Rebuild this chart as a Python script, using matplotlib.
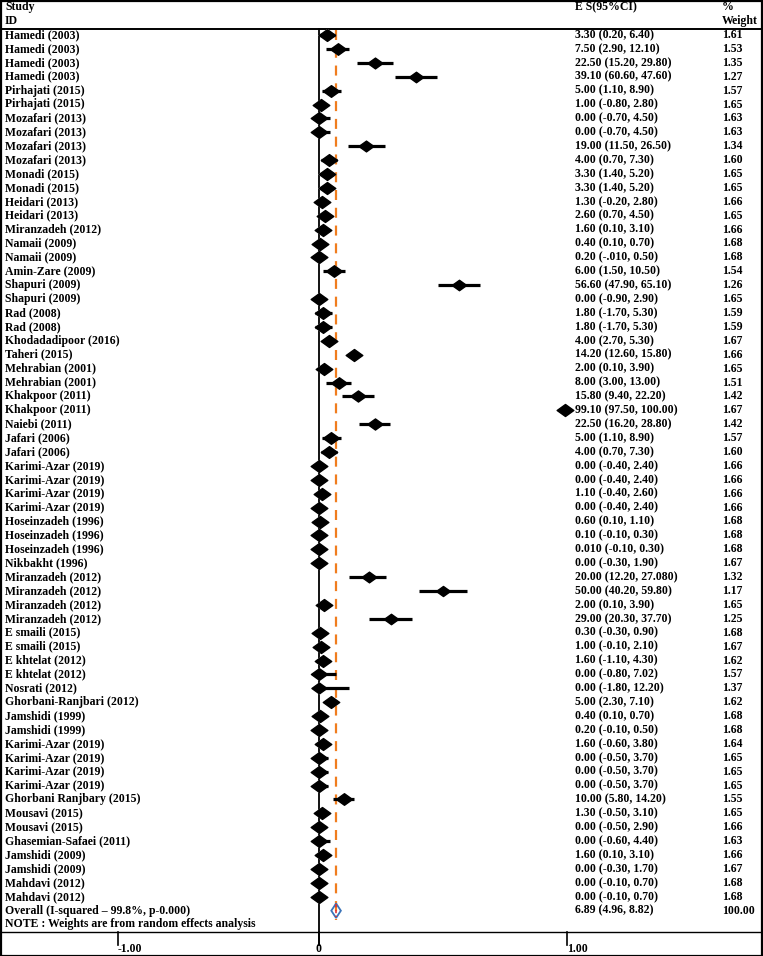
import matplotlib
matplotlib.use("Agg")
import matplotlib.pyplot as plt
from matplotlib.path import Path
from matplotlib.patches import Rectangle, Polygon
import numpy as np

studies = [
    "Hamedi (2003)", "Hamedi (2003)", "Hamedi (2003)", "Hamedi (2003)",
    "Pirhajati (2015)", "Pirhajati (2015)",
    "Mozafari (2013)", "Mozafari (2013)", "Mozafari (2013)", "Mozafari (2013)",
    "Monadi (2015)", "Monadi (2015)", "Heidari (2013)", "Heidari (2013)",
    "Miranzadeh (2012)", "Namaii (2009)", "Namaii (2009)", "Amin-Zare (2009)",
    "Shapuri (2009)", "Shapuri (2009)", "Rad (2008)", "Rad (2008)",
    "Khodadadipoor (2016)", "Taheri (2015)", "Mehrabian (2001)", "Mehrabian (2001)",
    "Khakpoor (2011)", "Khakpoor (2011)", "Naiebi (2011)", "Jafari (2006)", "Jafari (2006)",
    "Karimi-Azar (2019)", "Karimi-Azar (2019)", "Karimi-Azar (2019)", "Karimi-Azar (2019)",
    "Hoseinzadeh (1996)", "Hoseinzadeh (1996)", "Hoseinzadeh (1996)", "Nikbakht (1996)",
    "Miranzadeh (2012)", "Miranzadeh (2012)", "Miranzadeh (2012)", "Miranzadeh (2012)",
    "E smaili (2015)", "E smaili (2015)", "E khtelat (2012)", "E khtelat (2012)",
    "Nosrati (2012)", "Ghorbani-Ranjbari (2012)", "Jamshidi (1999)", "Jamshidi (1999)",
    "Karimi-Azar (2019)", "Karimi-Azar (2019)", "Karimi-Azar (2019)", "Karimi-Azar (2019)",
    "Ghorbani Ranjbary (2015)", "Mousavi (2015)", "Mousavi (2015)",
    "Ghasemian-Safaei (2011)", "Jamshidi (2009)", "Jamshidi (2009)",
    "Mahdavi (2012)", "Mahdavi (2012)",
]

es = [3.30, 7.50, 22.50, 39.10, 5.00, 1.00, 0.00, 0.00, 19.00, 4.00,
      3.30, 3.30, 1.30, 2.60, 1.60, 0.40, 0.20, 6.00, 56.60, 0.00,
      1.80, 1.80, 4.00, 14.20, 2.00, 8.00, 15.80, 99.10, 22.50, 5.00, 4.00,
      0.00, 0.00, 1.10, 0.00, 0.60, 0.10, 0.01, 0.00,
      20.00, 50.00, 2.00, 29.00, 0.30, 1.00, 1.60, 0.00,
      0.00, 5.00, 0.40, 0.20, 1.60, 0.00, 0.00, 0.00,
      10.00, 1.30, 0.00, 0.00, 1.60, 0.00, 0.00, 0.00]

lo = [0.20, 2.90, 15.20, 30.60, 1.10, -0.80, -0.70, -0.70, 11.50, 0.70,
      1.40, 1.40, -0.20, 0.70, 0.10, 0.10, -0.10, 1.50, 47.90, -0.90,
      -1.70, -1.70, 2.70, 12.60, 0.10, 3.00, 9.40, 97.50, 16.20, 1.10, 0.70,
      -0.40, -0.40, -0.40, -0.40, 0.10, -0.10, -0.10, -0.30,
      12.20, 40.20, 0.10, 20.30, -0.30, -0.10, -1.10, -0.80,
      -1.80, 2.30, 0.10, -0.10, -0.60, -0.50, -0.50, -0.50,
      5.80, -0.50, -0.50, -0.60, 0.10, -0.30, -0.10, -0.10]

hi = [6.40, 12.10, 29.80, 47.60, 8.90, 2.80, 4.50, 4.50, 26.50, 7.30,
      5.20, 5.20, 2.80, 4.50, 3.10, 0.70, 0.50, 10.50, 65.10, 2.90,
      5.30, 5.30, 5.30, 15.80, 3.90, 13.00, 22.20, 100.00, 28.80, 8.90, 7.30,
      2.40, 2.40, 2.60, 2.40, 1.10, 0.30, 0.30, 1.90,
      27.08, 59.80, 3.90, 37.70, 0.90, 2.10, 4.30, 7.02,
      12.20, 7.10, 0.70, 0.50, 3.80, 3.70, 3.70, 3.70,
      14.20, 3.10, 2.90, 4.40, 3.10, 1.70, 0.70, 0.70]

ci_text = [
    "3.30 (0.20, 6.40)", "7.50 (2.90, 12.10)", "22.50 (15.20, 29.80)", "39.10 (60.60, 47.60)",
    "5.00 (1.10, 8.90)", "1.00 (-0.80, 2.80)", "0.00 (-0.70, 4.50)", "0.00 (-0.70, 4.50)",
    "19.00 (11.50, 26.50)", "4.00 (0.70, 7.30)", "3.30 (1.40, 5.20)", "3.30 (1.40, 5.20)",
    "1.30 (-0.20, 2.80)", "2.60 (0.70, 4.50)", "1.60 (0.10, 3.10)", "0.40 (0.10, 0.70)",
    "0.20 (-.010, 0.50)", "6.00 (1.50, 10.50)", "56.60 (47.90, 65.10)", "0.00 (-0.90, 2.90)",
    "1.80 (-1.70, 5.30)", "1.80 (-1.70, 5.30)", "4.00 (2.70, 5.30)", "14.20 (12.60, 15.80)",
    "2.00 (0.10, 3.90)", "8.00 (3.00, 13.00)", "15.80 (9.40, 22.20)", "99.10 (97.50, 100.00)",
    "22.50 (16.20, 28.80)", "5.00 (1.10, 8.90)", "4.00 (0.70, 7.30)",
    "0.00 (-0.40, 2.40)", "0.00 (-0.40, 2.40)", "1.10 (-0.40, 2.60)", "0.00 (-0.40, 2.40)",
    "0.60 (0.10, 1.10)", "0.10 (-0.10, 0.30)", "0.010 (-0.10, 0.30)", "0.00 (-0.30, 1.90)",
    "20.00 (12.20, 27.080)", "50.00 (40.20, 59.80)", "2.00 (0.10, 3.90)", "29.00 (20.30, 37.70)",
    "0.30 (-0.30, 0.90)", "1.00 (-0.10, 2.10)", "1.60 (-1.10, 4.30)", "0.00 (-0.80, 7.02)",
    "0.00 (-1.80, 12.20)", "5.00 (2.30, 7.10)", "0.40 (0.10, 0.70)", "0.20 (-0.10, 0.50)",
    "1.60 (-0.60, 3.80)", "0.00 (-0.50, 3.70)", "0.00 (-0.50, 3.70)", "0.00 (-0.50, 3.70)",
    "10.00 (5.80, 14.20)", "1.30 (-0.50, 3.10)", "0.00 (-0.50, 2.90)", "0.00 (-0.60, 4.40)",
    "1.60 (0.10, 3.10)", "0.00 (-0.30, 1.70)", "0.00 (-0.10, 0.70)", "0.00 (-0.10, 0.70)",
]

weights = [1.61, 1.53, 1.35, 1.27, 1.57, 1.65, 1.63, 1.63, 1.34, 1.60,
           1.65, 1.65, 1.66, 1.65, 1.66, 1.68, 1.68, 1.54, 1.26, 1.65,
           1.59, 1.59, 1.67, 1.66, 1.65, 1.51, 1.42, 1.67, 1.42, 1.57, 1.60,
           1.66, 1.66, 1.66, 1.66, 1.68, 1.68, 1.68, 1.67,
           1.32, 1.17, 1.65, 1.25, 1.68, 1.67, 1.62, 1.57,
           1.37, 1.62, 1.68, 1.68, 1.64, 1.65, 1.65, 1.65,
           1.55, 1.65, 1.66, 1.63, 1.66, 1.67, 1.68, 1.68]

overall_label = "Overall (I-squared \u2013 99.8%, p-0.000)"
overall_es, overall_lo, overall_hi = 6.89, 4.96, 8.82
overall_text = "6.89 (4.96, 8.82)"
overall_weight = "100.00"
note_text = "NOTE : Weights are from random effects analysis"
axis_tick_labels = ["-1.00", "0", "1.00"]

# ---------------- layout ----------------
W, H = 763, 956
fig = plt.figure(figsize=(W / 100, H / 100), dpi=100)
ax = fig.add_axes([0, 0, 1, 1])
X0, XS = 319.0, 248.0          # pixel of 0 and pixels per unit
Y0, YS = 35.0, 13.9            # pixel of row 1 and row spacing
ax.set_xlim(-X0 / XS, (W - X0) / XS)
ax.set_ylim(1 + (H - Y0) / YS, 1 - Y0 / YS)
ax.axis("off")

def px2x(p):
    return (p - X0) / XS

def py2y(p):
    return 1 + (p - Y0) / YS

FONT = dict(family="Liberation Serif", fontweight="bold", fontsize=8.5, color="black")
XS_TXT, XES_TXT, XW_TXT = 5, 575, 722

n = len(studies)
rows = np.arange(1, n + 1)
esf = np.array(es) / 100
lof = np.array(lo) / 100
hif = np.array(hi) / 100

# vertical reference lines
ax.plot([0, 0], [py2y(29), py2y(945)], color="black", lw=1.3, zorder=1)
ax.plot([overall_es / 100] * 2, [py2y(30), py2y(920)], color="#f07d1e", lw=1.6,
        dashes=(4.5, 3.5), zorder=1)

# CIs and diamonds
for r, l, h in zip(rows, lof, hif):
    ax.plot([l, h], [r, r], color="black", lw=2.3, solid_capstyle="butt", zorder=3)
diamond = Path([(-1, 0), (0, 0.72), (1, 0), (0, -0.72), (-1, 0)],
               [Path.MOVETO, Path.LINETO, Path.LINETO, Path.LINETO, Path.CLOSEPOLY])
sizes = 12.0 * np.sqrt(np.array(weights) / 1.68)
for r, e, s in zip(rows, esf, sizes):
    ax.plot([e], [r], marker=diamond, markersize=s + 1.5, color="#cfcfcf", mec="none", zorder=2)
    ax.plot([e], [r], marker=diamond, markersize=s, color="black", mec="black", zorder=4)

# overall diamond
ro = n + 1
poly = Polygon([(overall_lo / 100, ro), (overall_es / 100, ro - 0.52),
                (overall_hi / 100, ro), (overall_es / 100, ro + 0.52)],
               closed=True, fill=False, edgecolor="#3b74b8", lw=1.3, zorder=5)
ax.add_patch(poly)
ax.plot([overall_es / 100] * 2, [ro - 0.45, ro + 0.45], color="#e03030", lw=1.2,
        dashes=(2, 1.5), zorder=6)

# text columns
for r, s, c, w in zip(rows, studies, ci_text, weights):
    ax.text(px2x(XS_TXT), r, s, ha="left", va="center", **FONT)
    ax.text(px2x(XES_TXT), r, c, ha="left", va="center", **FONT)
    ax.text(px2x(XW_TXT), r, f"{w:.2f}", ha="left", va="center", **FONT)
ax.text(px2x(XS_TXT), ro, overall_label, ha="left", va="center", **FONT)
ax.text(px2x(XES_TXT), ro, overall_text, ha="left", va="center", **FONT)
ax.text(px2x(XW_TXT), ro, overall_weight, ha="left", va="center", **FONT)
ax.text(px2x(XS_TXT), ro + 0.95, note_text, ha="left", va="center", **FONT)

# header
ax.text(px2x(XS_TXT), py2y(7), "Study", ha="left", va="center", **FONT)
ax.text(px2x(XS_TXT), py2y(21), "ID", ha="left", va="center", **FONT)
ax.text(px2x(XES_TXT), py2y(7), "E S(95%CI)", ha="left", va="center", **FONT)
ax.text(px2x(XW_TXT), py2y(7), "%", ha="left", va="center", **FONT)
ax.text(px2x(XW_TXT), py2y(21), "Weight", ha="left", va="center", **FONT)

# horizontal rules
ax.plot([px2x(0), px2x(W)], [py2y(28.5)] * 2, color="black", lw=1.4, zorder=1)
ax.plot([px2x(0), px2x(W)], [py2y(932)] * 2, color="black", lw=1.0, zorder=1)

# axis ticks
tick_pos = [px2x(118), 0.0, 1.0]
for tp, tl in zip(tick_pos, axis_tick_labels):
    ax.plot([tp, tp], [py2y(932), py2y(945)], color="black", lw=1.2)
    if tl == "0":
        ax.text(tp, py2y(949), tl, ha="center", va="center", **FONT)
    else:
        ax.text(tp, py2y(949), tl, ha="left", va="center", **FONT)

# outer frame
fig.add_artist(Rectangle((0.5 / W, 0.5 / H), (W - 1.5) / W, (H - 1.5) / H,
                         transform=fig.transFigure, fill=False, edgecolor="black", lw=1.6))

fig.savefig("out.png", dpi=100)
